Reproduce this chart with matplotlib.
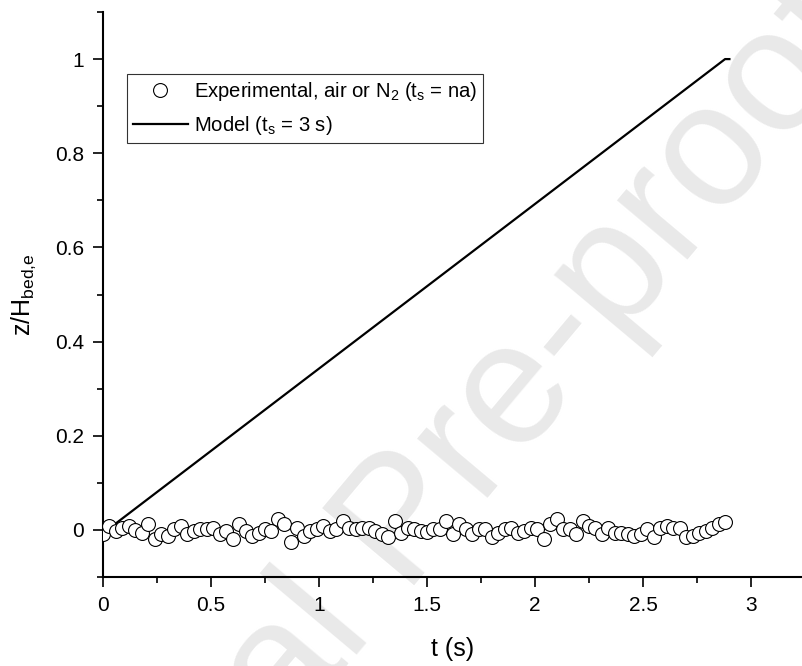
import matplotlib
matplotlib.use("Agg")
import matplotlib.pyplot as plt
from matplotlib.ticker import MultipleLocator, FuncFormatter

plt.rcParams["font.family"] = ["Liberation Sans", "DejaVu Sans"]
plt.rcParams["mathtext.fontset"] = "custom"
plt.rcParams["mathtext.rm"] = "Liberation Sans"
plt.rcParams["mathtext.it"] = "Liberation Sans:italic"

# Measured bed surface position, air or N2
t_exp = [
    0.00, 0.03, 0.06, 0.09, 0.12, 0.15, 0.18, 0.21, 0.24, 0.27,
    0.30, 0.33, 0.36, 0.39, 0.42, 0.45, 0.48, 0.51, 0.54, 0.57,
    0.60, 0.63, 0.66, 0.69, 0.72, 0.75, 0.78, 0.81, 0.84, 0.87,
    0.90, 0.93, 0.96, 0.99, 1.02, 1.05, 1.08, 1.11, 1.14, 1.17,
    1.20, 1.23, 1.26, 1.29, 1.32, 1.35, 1.38, 1.41, 1.44, 1.47,
    1.50, 1.53, 1.56, 1.59, 1.62, 1.65, 1.68, 1.71, 1.74, 1.77,
    1.80, 1.83, 1.86, 1.89, 1.92, 1.95, 1.98, 2.01, 2.04, 2.07,
    2.10, 2.13, 2.16, 2.19, 2.22, 2.25, 2.28, 2.31, 2.34, 2.37,
    2.40, 2.43, 2.46, 2.49, 2.52, 2.55, 2.58, 2.61, 2.64, 2.67,
    2.70, 2.73, 2.76, 2.79, 2.82, 2.85, 2.88,
]
z_exp = [
    -0.009, 0.009, -0.002, 0.005, 0.009, -0.001, -0.006, 0.012, -0.020, -0.009,
    -0.013, 0.001, 0.009, -0.009, -0.002, 0.001, 0.001, 0.005, -0.009, -0.002,
    -0.020, 0.012, -0.002, -0.013, -0.006, 0.001, -0.002, 0.023, 0.012, -0.025,
    0.005, -0.013, -0.002, 0.001, 0.009, -0.002, 0.001, 0.019, 0.005, 0.001,
    0.005, 0.005, -0.002, -0.009, -0.016, 0.019, -0.006, 0.005, 0.001, -0.002,
    -0.004, 0.001, 0.001, 0.019, -0.009, 0.012, 0.003, -0.009, 0.001, 0.001,
    -0.016, -0.006, 0.001, 0.005, -0.006, -0.002, 0.005, 0.001, -0.020, 0.012,
    0.023, 0.001, 0.001, -0.009, 0.019, 0.009, 0.005, -0.009, 0.005, -0.006,
    -0.006, -0.009, -0.013, -0.009, 0.001, -0.016, 0.005, 0.009, 0.005, 0.005,
    -0.016, -0.013, -0.006, -0.002, 0.005, 0.012, 0.016,
]

# Model prediction, t_s = 3 s
t_model = [0.00, 0.02, 2.88, 2.90]
z_model = [0.00, 0.00, 1.00, 1.00]

x_ticks = [0, 0.5, 1, 1.5, 2, 2.5, 3]
y_ticks = [0, 0.2, 0.4, 0.6, 0.8, 1]

fig = plt.figure(figsize=(8.03, 6.66), dpi=100)
ax = fig.add_axes([103 / 803, 89 / 666, 700 / 803, 565 / 666])
ax.set_facecolor("none")

# faint diagonal watermark behind the axes
fig.text(405 / 803, 140 / 666, "Journal Pre-proof", fontsize=126, color="#e9e9e9",
         rotation=50, rotation_mode="anchor", ha="center", va="center", zorder=-1)

ax.plot(t_exp, z_exp, ls="none", marker="o", ms=10, mfc="white", mec="black",
        mew=0.8, label="Experimental, air or N$_\\mathregular{2}$ (t$_\\mathregular{s}$ = na)",
        zorder=3)
ax.plot(t_model, z_model, color="black", lw=1.6,
        label="Model (t$_\\mathregular{s}$ = 3 s)", zorder=2)

ax.set_xlim(0, 700 / 216)
ax.set_ylim(-0.1, 1.1)
ax.set_xticks(x_ticks)
ax.set_yticks(y_ticks)
ax.xaxis.set_minor_locator(MultipleLocator(0.25))
ax.yaxis.set_minor_locator(MultipleLocator(0.1))
fmt = FuncFormatter(lambda v, pos: f"{v:g}")
ax.xaxis.set_major_formatter(fmt)
ax.yaxis.set_major_formatter(fmt)

for side in ("top", "right"):
    ax.spines[side].set_visible(False)
for side in ("left", "bottom"):
    ax.spines[side].set_linewidth(1.5)

ax.tick_params(which="major", direction="out", length=7.5, width=1.2, labelsize=15, pad=6)
ax.tick_params(which="minor", direction="out", length=4, width=1.2)

ax.set_xlabel("t (s)", fontsize=18, labelpad=16)
ax.set_ylabel("z/H$_\\mathregular{bed{,}e}$", fontsize=18, labelpad=12)

leg = ax.legend(loc="upper left", bbox_to_anchor=(127 / 803, 592 / 666),
                bbox_transform=fig.transFigure, fontsize=14.6, frameon=True,
                fancybox=False, edgecolor="black", borderaxespad=0,
                borderpad=0.3, handlelength=2.7, handletextpad=0.3,
                labelspacing=0.55)
leg.get_frame().set_linewidth(0.8)

fig.savefig("out.png", dpi=100)
